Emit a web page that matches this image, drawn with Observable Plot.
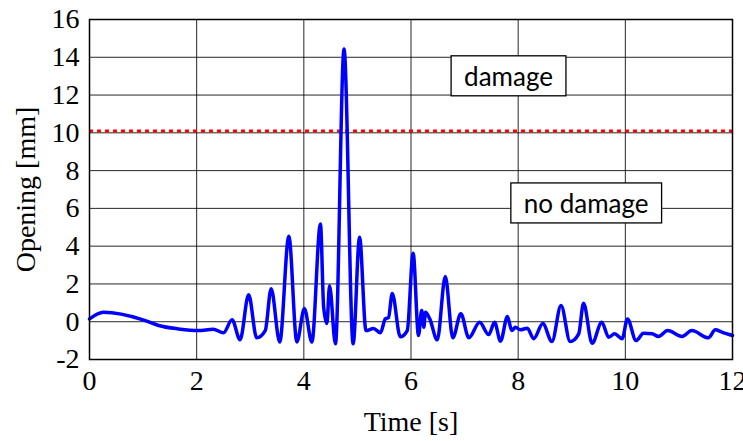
<!DOCTYPE html>
<html>
<head>
<meta charset="utf-8">
<script src="https://cdn.jsdelivr.net/npm/d3@7"></script>
<script src="https://cdn.jsdelivr.net/npm/@observablehq/plot@0.6"></script>
<style>
  html, body { margin: 0; padding: 0; background: #fff; }
  svg { display: block; }
</style>
</head>
<body>
<script>
// Crack opening over time
const time = [0, 0.26, 1.0, 1.29, 1.66, 2.03, 2.31, 2.5, 2.66, 2.81, 2.97, 3.12, 3.28, 3.39, 3.55, 3.72, 3.87, 4.01, 4.15, 4.31, 4.37, 4.43, 4.48, 4.59, 4.75, 4.92, 5.04, 5.16, 5.3, 5.43, 5.52, 5.58, 5.65, 5.8, 5.93, 6.04, 6.14, 6.2, 6.24, 6.27, 6.35, 6.49, 6.64, 6.78, 6.93, 7.08, 7.28, 7.45, 7.56, 7.67, 7.8, 7.88, 7.95, 8.04, 8.17, 8.29, 8.46, 8.63, 8.8, 8.97, 9.13, 9.22, 9.38, 9.56, 9.69, 9.8, 9.94, 10.04, 10.2, 10.34, 10.5, 10.62, 10.79, 11.06, 11.24, 11.55, 11.68, 11.8, 12.0];
const opening = [0.15, 0.5, 0.1, -0.2, -0.38, -0.47, -0.4, -0.59, 0.1, -0.95, 1.43, -0.85, -0.47, 1.75, -1.08, 4.53, -1.07, 0.7, -1.08, 5.18, 0.77, -0.1, 1.9, -1.17, 14.44, -1.17, 4.47, -0.47, -0.36, -0.58, 0.15, 0.22, 1.5, -0.8, -0.47, 3.63, -0.73, 0.6, -0.29, 0.5, 0.15, -0.96, 2.39, -0.85, 0.42, -0.85, -0.03, -0.68, -0.03, -1.03, 0.27, -0.47, -0.29, -0.43, -0.34, -0.9, -0.1, -1.05, 0.86, -1.05, -0.64, 0.98, -1.14, -0.03, -0.82, -0.64, -0.9, 0.15, -1.0, -0.61, -0.64, -0.78, -0.47, -0.78, -0.47, -0.85, -0.43, -0.55, -0.73];

// Damage threshold
const threshold = [10.1];

// Region labels
const labelText = ["damage", "no damage"];
const labelTime = [7.82, 9.27];
const labelOpening = [12.93, 6.2];

// Axis ticks
const xTicks = [0, 2, 4, 6, 8, 10, 12];
const yTicks = [-2, 0, 2, 4, 6, 8, 10, 12, 14, 16];

const series = time.map((t, i) => ({t, v: opening[i]}));
const labels = labelText.map((text, i) => ({text, t: labelTime[i], v: labelOpening[i]}));

const chart = Plot.plot({
  width: 743,
  height: 441,
  marginLeft: 89,
  marginRight: 11,
  marginTop: 19,
  marginBottom: 82,
  style: {fontFamily: "'Liberation Serif', serif", fontSize: "28px", color: "#000", background: "#fff"},
  x: {domain: [0, 12], ticks: xTicks},
  y: {domain: [-2, 16], ticks: yTicks},
  marks: [
    Plot.gridX(xTicks, {stroke: "#000", strokeOpacity: 0.85, strokeWidth: 1}),
    Plot.gridY(yTicks, {stroke: "#000", strokeOpacity: 0.85, strokeWidth: 1}),
    Plot.axisX(xTicks, {tickSize: 0, tickPadding: 11, fontSize: 28, tickFormat: d => String(d), label: "Time [s]", labelAnchor: "center", labelArrow: "none", labelOffset: 71}),
    Plot.axisY(yTicks, {tickSize: 0, tickPadding: 10, fontSize: 28, tickFormat: d => String(d), label: "Opening [mm]", labelAnchor: "center", labelArrow: "none", labelOffset: 74}),
    Plot.ruleY(threshold, {stroke: "#ff0000", strokeWidth: 3, strokeDasharray: "4,4"}),
    Plot.line(series, {x: "t", y: "v", stroke: "#0000ff", strokeWidth: 3.5, curve: "monotone-x", strokeLinejoin: "round"}),
    Plot.text(labels, {x: "t", y: "v", text: "text", fontFamily: "Lato, sans-serif", fontSize: 26, fill: "#000"}),
    Plot.frame({stroke: "#000", strokeWidth: 1.5})
  ]
});

document.body.append(chart);

// Draw a white box with a black outline behind each region label
const svg = chart.tagName.toLowerCase() === "svg" ? chart : chart.querySelector("svg");
svg.querySelectorAll('g[aria-label="text"] text').forEach(node => {
  const b = node.getBBox();
  const padX = 13, padY = 4;
  const rect = document.createElementNS("http://www.w3.org/2000/svg", "rect");
  rect.setAttribute("x", b.x - padX);
  rect.setAttribute("y", b.y - padY);
  rect.setAttribute("width", b.width + 2 * padX);
  rect.setAttribute("height", b.height + 2 * padY);
  rect.setAttribute("fill", "#fff");
  rect.setAttribute("stroke", "#000");
  rect.setAttribute("stroke-width", 1.3);
  const tf = node.getAttribute("transform");
  if (tf) rect.setAttribute("transform", tf);
  node.parentNode.insertBefore(rect, node);
});
</script>
</body>
</html>
